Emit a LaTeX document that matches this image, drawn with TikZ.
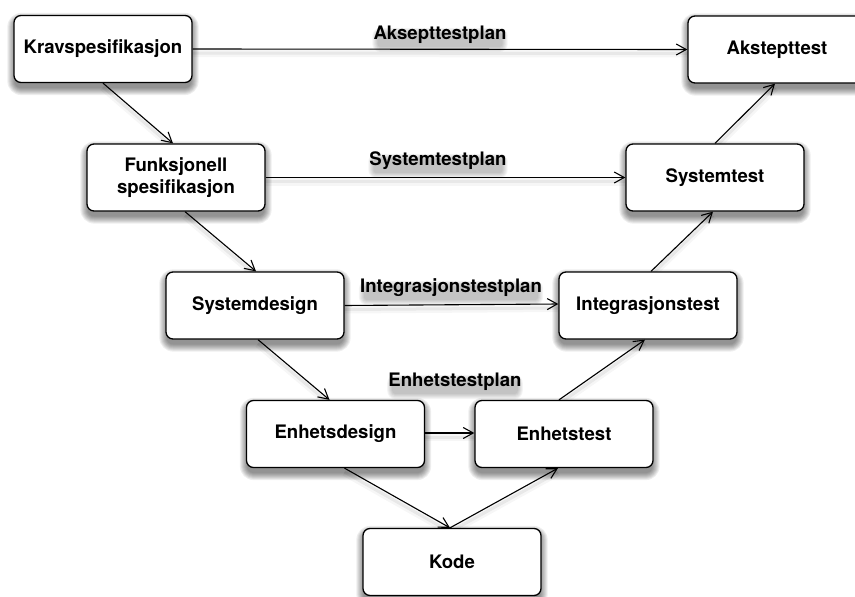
\documentclass[tikz,border=0pt]{standalone}
\usepackage{fontspec}
\setmainfont{TeX Gyre Heros}
\usetikzlibrary{arrows.meta,calc}
\pgfdeclarelayer{shade}
\pgfdeclarelayer{wires}
\pgfsetlayers{shade,wires,main}

\begin{document}
\begin{tikzpicture}[x=1pt,y=-1pt,
  txt/.style={font=\bfseries\fontsize{18.6}{22}\selectfont},
  stage/.style={txt, draw=black, line width=1.3pt, fill=white,
    rounded corners=7pt, minimum width=178pt, minimum height=67pt,
    align=center, inner sep=0pt},
  plan/.style={txt, inner sep=0pt},
  flow/.style={line width=1.1pt,
    preaction={draw, -, line width=8pt, black, opacity=0.035,
      transform canvas={yshift=-4pt}},
    preaction={draw, -, line width=3pt, black, opacity=0.06,
      transform canvas={yshift=-4pt}},
    -{Straight Barb[length=10pt,width=11pt,line width=1.1pt]}}]

\useasboundingbox (0,0) rectangle (855,597);
\clip (0,0) rectangle (855,597);

% stages of the V
\node[stage] (krav)  at (103,49)    {Kravspesifikasjon};
\node[stage] (akst)  at (777,49.5)  {Akstepttest};
\node[stage] (funk)  at (176,177.5) {Funksjonell\\spesifikasjon};
\node[stage] (syst)  at (715,177.5) {Systemtest};
\node[stage] (sysd)  at (255,305.5) {Systemdesign};
\node[stage] (integ) at (648,305.5) {Integrasjonstest};
\node[stage] (ehd)   at (335.5,434) {Enhetsdesign};
\node[stage] (eht)   at (564,434)   {Enhetstest};
\node[stage] (kode)  at (452,562)   {Kode};

% test plans
\node[plan] (lakst)  at (440,35)  {Aksepttestplan};
\node[plan] (lsyst)  at (438,161) {Systemtestplan};
\node[plan] (linteg) at (451,288) {Integrasjonstestplan};
\node[plan] (leht)   at (455,382) {Enhetstestplan};

% soft drop shadows under the stages and the plan labels
\begin{pgfonlayer}{shade}
  \foreach \b in {krav,akst,funk,syst,sysd,integ,ehd,eht,kode}{
    \foreach \e [evaluate=\e as \r using 7+\e] in {0,...,7}{
      \fill[black, opacity=0.065, rounded corners=\r pt]
        ($(\b.north west)+(-\e+1,5-\e)$) rectangle ($(\b.south east)+(\e-1,5+\e)$);
    }}
  \foreach \l in {lakst,lsyst,linteg,leht}{
    \foreach \e [evaluate=\e as \r using 3+\e] in {0,...,5}{
      \fill[black, opacity=0.045, rounded corners=\r pt]
        ($(\l.north west)+(4-\e,7-\e)$) rectangle ($(\l.south east)+(\e-4,3+\e)$);
    }}
\end{pgfonlayer}

% connectors
\begin{pgfonlayer}{wires}
  \draw[flow] (krav.east) -- (akst.west);
  \draw[flow] (funk.east) -- (syst.west);
  \draw[flow] (sysd.east) -- ([yshift=1.5]integ.west);
  \draw[flow] ([yshift=1]ehd.east) -- ([yshift=1]eht.west);

  \draw[flow] (krav.south) -- ([xshift=-3]funk.north);
  \draw[flow] ([xshift=9]funk.south) -- ([xshift=1]sysd.north);
  \draw[flow] ([xshift=3]sysd.south) -- ([xshift=-6]ehd.north);
  \draw[flow] ([xshift=9]ehd.south) -- ([xshift=-2]kode.north);
  \draw[flow] ([xshift=-2]kode.north) -- ([xshift=-6]eht.south);
  \draw[flow] ([xshift=-5]eht.north) -- ([xshift=-3]integ.south);
  \draw[flow] ([xshift=3]integ.north) -- ([xshift=-2]syst.south);
  \draw[flow] (syst.north) -- ([xshift=-2]akst.south);
\end{pgfonlayer}
\end{tikzpicture}
\end{document}
